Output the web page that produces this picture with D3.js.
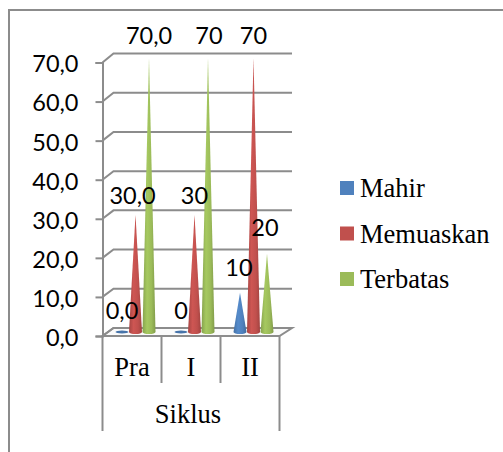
<!DOCTYPE html>
<html>
<head>
<meta charset="utf-8">
<script src="https://cdn.jsdelivr.net/npm/d3@7"></script>
<style>
  html, body { margin: 0; padding: 0; background: #fff; overflow: hidden; }
  .num { font-family: Lato, sans-serif; font-size: 23.5px; fill: #000; }
  .serif { font-family: "Liberation Serif", serif; font-size: 26.5px; fill: #000; }
</style>
</head>
<body>
<svg id="chart" width="503" height="452"></svg>
<script>
const categories = ["Pra", "I", "II"];
const groupLabel = "Siklus";
const seriesNames = ["Mahir", "Memuaskan", "Terbatas"];
const seriesColors = ["#4F81BD", "#C0504D", "#9BBB59"];
const mahir = [0, 0, 10];
const memuaskan = [30, 30, 70];
const terbatas = [70, 70, 20];
const mahirLabels = ["0,0", "0", "10"];
const memuaskanLabels = ["30,0", "30", "70"];
const terbatasLabels = ["70,0", "70", "20"];
const yTicks = [0, 10, 20, 30, 40, 50, 60, 70];
const yTickLabels = ["0,0", "10,0", "20,0", "30,0", "40,0", "50,0", "60,0", "70,0"];

const seriesValues = [mahir, memuaskan, terbatas];
const seriesLabels = [mahirLabels, memuaskanLabels, terbatasLabels];

const svg = d3.select("#chart");
const grey = "#8c8c8c";

// outer frame, only top and left sides are in the picture
svg.append("path")
    .attr("d", "M503,10H9V452")
    .attr("fill", "none")
    .attr("stroke", grey)
    .attr("stroke-width", 2);

// scales: front of the box, back wall, cones
const yFront = d3.scaleLinear().domain([0, 70]).range([336, 62.5]);
const yBack = d3.scaleLinear().domain([0, 70]).range([328, 53.5]);
const yCone = d3.scaleLinear().domain([0, 70]).range([332, 58]);
const xCat = d3.scaleBand().domain(categories).range([102.5, 279.5]);
const xSeries = d3.scalePoint().domain(seriesNames).range([-13.5, 13.5]);

const depth = 11;
const backLeft = xCat.range()[0] + depth;
const backRight = xCat.range()[1] + 12.5;

// floor
svg.append("path")
    .attr("d", `M${xCat.range()[0]},${yFront(0)}L${backLeft},${yBack(0)}H${backRight}L${xCat.range()[1]},${yFront(0)}Z`)
    .attr("fill", "#fbfbfb")
    .attr("stroke", grey)
    .attr("stroke-width", 2);

// back wall grid and the slanted bits on the side wall
const grid = svg.append("g").attr("fill", "none").attr("stroke", grey).attr("stroke-width", 2);
grid.selectAll("path.grid")
    .data(yTicks)
    .enter()
    .append("path")
    .attr("class", "grid")
    .attr("d", d => `M${xCat.range()[0]},${yFront(d)}L${backLeft},${yBack(d)}H${backRight}`);

// y axis with tick marks
const yAxis = d3.axisLeft(yFront)
    .tickValues(yTicks)
    .tickFormat((d, i) => yTickLabels[i])
    .tickSize(7)
    .tickPadding(17);
const yAxisG = svg.append("g")
    .attr("transform", `translate(${xCat.range()[0]},0)`)
    .call(yAxis);
yAxisG.selectAll("path.domain, line").attr("stroke", grey).attr("stroke-width", 2);
yAxisG.selectAll("text")
    .attr("class", "num")
    .attr("dy", "0.4em");
yAxisG.attr("font-family", null).attr("font-size", null);

// front floor line and category separators
svg.append("line")
    .attr("x1", xCat.range()[0]).attr("x2", xCat.range()[1])
    .attr("y1", yFront(0)).attr("y2", yFront(0))
    .attr("stroke", grey).attr("stroke-width", 2);
const sepX = categories.map(c => xCat(c)).concat([xCat.range()[1]]);
svg.selectAll("line.sep")
    .data(sepX)
    .enter()
    .append("line")
    .attr("class", "sep")
    .attr("x1", d => d).attr("x2", d => d)
    .attr("y1", yFront(0))
    .attr("y2", (d, i) => (i === 0 || i === sepX.length - 1) ? 431 : 383)
    .attr("stroke", grey)
    .attr("stroke-width", 2);

// category labels
svg.selectAll("text.cat")
    .data(categories)
    .enter()
    .append("text")
    .attr("class", "serif")
    .attr("x", d => xCat(d) + xCat.bandwidth() / 2)
    .attr("y", 376)
    .attr("text-anchor", "middle")
    .text(d => d);
svg.append("text")
    .attr("class", "serif")
    .attr("x", (xCat.range()[0] + xCat.range()[1]) / 2 - 3)
    .attr("y", 423)
    .attr("text-anchor", "middle")
    .text(groupLabel);

// gradients for the cones, dark at the edges and light in the middle
const defs = svg.append("defs");
seriesColors.forEach((color, i) => {
    const grad = defs.append("linearGradient").attr("id", "cone" + i);
    const c = d3.color(color);
    grad.append("stop").attr("offset", "0%").attr("stop-color", c.darker(0.4));
    grad.append("stop").attr("offset", "35%").attr("stop-color", c.brighter(0.2));
    grad.append("stop").attr("offset", "70%").attr("stop-color", c);
    grad.append("stop").attr("offset", "100%").attr("stop-color", c.darker(0.5));
});

const halfWidth = 6.5;
const baseRy = 2;

// cones
categories.forEach((cat, ci) => {
    const cx0 = xCat(cat) + xCat.bandwidth() / 2 + 3.5;
    seriesNames.forEach((name, si) => {
        const v = seriesValues[si][ci];
        const cx = cx0 + xSeries(name);
        const base = yCone(0);
        if (v === 0) {
            svg.append("ellipse")
                .attr("cx", cx).attr("cy", base)
                .attr("rx", halfWidth).attr("ry", 1.5)
                .attr("fill", d3.color(seriesColors[si]).darker(0.3));
        } else {
            svg.append("path")
                .attr("d", `M${cx - halfWidth},${base}L${cx},${yCone(v)}L${cx + halfWidth},${base}A${halfWidth},${baseRy} 0 0 1 ${cx - halfWidth},${base}Z`)
                .attr("fill", `url(#cone${si})`);
        }
    });
});

// data labels on top of everything, a few were moved by hand in the original
const labelShiftX = [[0, 0, -1], [-3, 0, 0], [0, 1, -2]];
const labelShiftY = [[2, 2, -2], [4, 4, 1], [1, 1, -3]];
categories.forEach((cat, ci) => {
    const cx0 = xCat(cat) + xCat.bandwidth() / 2 + 3.5;
    seriesNames.forEach((name, si) => {
        svg.append("text")
            .attr("class", "num")
            .attr("x", cx0 + xSeries(name) + labelShiftX[si][ci])
            .attr("y", yCone(seriesValues[si][ci]) - 15 + labelShiftY[si][ci])
            .attr("text-anchor", "middle")
            .text(seriesLabels[si][ci]);
    });
});

// legend
const yLegend = d3.scalePoint().domain(seriesNames).range([188, 279]);
const legend = svg.selectAll("g.legend")
    .data(seriesNames)
    .enter()
    .append("g")
    .attr("class", "legend")
    .attr("transform", d => `translate(340,${yLegend(d)})`);
legend.append("rect")
    .attr("y", -7).attr("width", 14).attr("height", 14)
    .attr("fill", (d, i) => seriesColors[i]);
legend.append("text")
    .attr("class", "serif")
    .attr("x", 20)
    .attr("y", 9)
    .text(d => d);
</script>
</body>
</html>
